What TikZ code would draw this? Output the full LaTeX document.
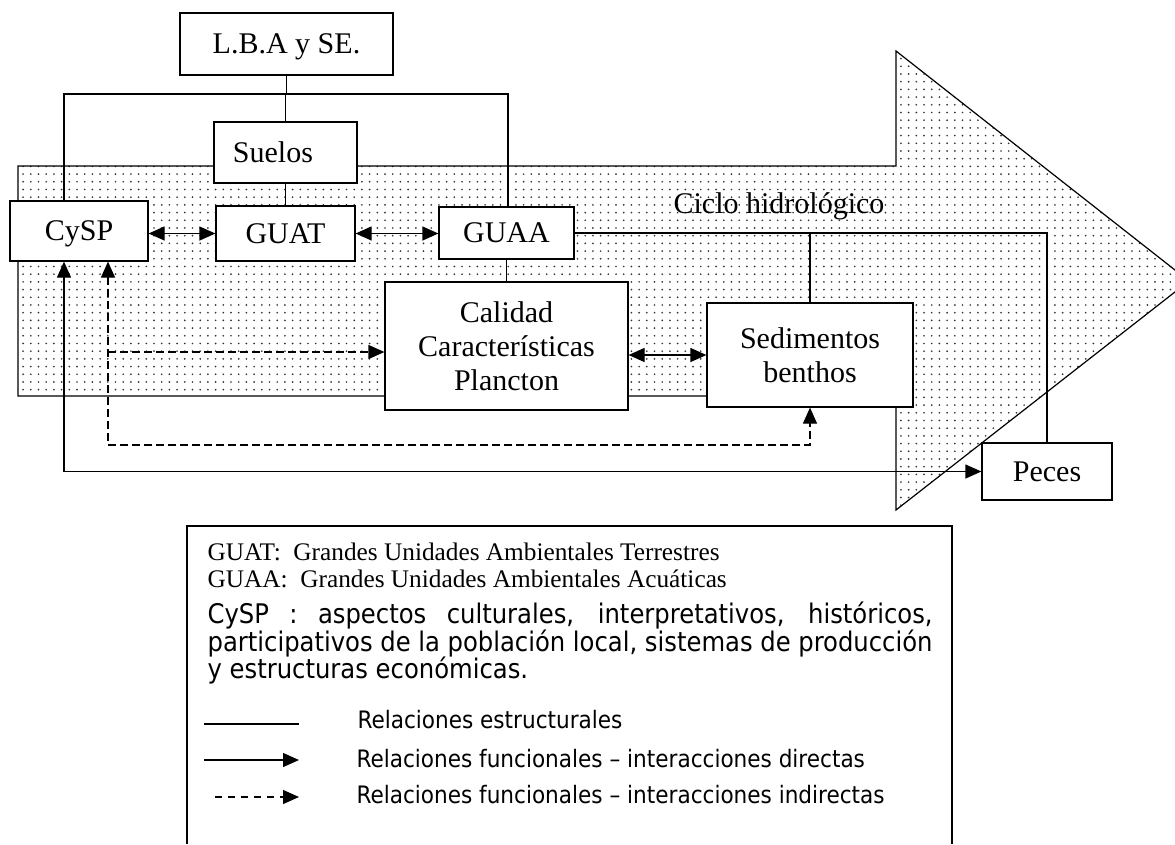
\documentclass[tikz,border=0pt]{standalone}
\usepackage{fontspec}
\setmainfont{Liberation Serif}
\newfontfamily\tahoma{DejaVu Sans Condensed}
\usetikzlibrary{arrows.meta,patterns.meta}
\begin{document}
\begin{tikzpicture}[x=1pt,y=-1pt,line width=1.2pt,>={Triangle[length=16pt,width=14pt]},
	box/.style={draw,fill=white,inner sep=0pt,align=center,font=\fontsize{30}{34}\selectfont},
	one/.style={box,text depth=0pt},
	ind/.style={dash pattern=on 8pt off 4pt},
	gloss/.style={anchor=base west,inner sep=0pt}]
	\useasboundingbox (0,0) rectangle (1175,844);
	\draw[pattern={Dots[distance=7.7pt,radius=0.95pt]},pattern color=black!80]
		(18,166) -- (896,166) -- (896,51) -- (1189,281) -- (896,510) -- (896,396) -- (18,396) -- cycle;
	\node[gloss,font=\fontsize{30}{34}\selectfont] (ciclo) at (673,213) {Ciclo hidrológico};
	\node[one,minimum width=213pt,minimum height=62pt] (lba) at (286.5,44) {L.B.A y SE.};
	\node[one,minimum width=143pt,minimum height=61pt] (suelos) at (285.5,152.5) {Suelos\hspace*{25pt}};
	\node[one,minimum width=138pt,minimum height=60pt] (cysp) at (79,231) {CySP};
	\node[one,minimum width=139pt,minimum height=55pt] (guat) at (285.5,233.5) {GUAT};
	\node[one,minimum width=135pt,minimum height=52pt] (guaa) at (506.5,233) {GUAA};
	\node[box,minimum width=243pt,minimum height=128pt] (calidad) at (506.5,346) {Calidad\\Características\\Plancton};
	\node[box,minimum width=206pt,minimum height=104pt] (sed) at (810,355) {Sedimentos\\benthos};
	\node[one,minimum width=130pt,minimum height=57pt] (peces) at (1047,471.5) {Peces};
	\coordinate (busL) at (64,94);
	\coordinate (busR) at (508,94);
	\draw (cysp.north -| busL) |- (busR) -- (guaa.north -| busR);
	\draw (lba.south) -- (lba.south |- busL);
	\draw (suelos.north) -- (suelos.north |- busL);
	\draw (suelos.south) -- (guat.north);
	\draw[<->] (cysp.east |- guat) -- (guat.west);
	\draw[<->] (guat.east) -- (guaa.west |- guat.east);
	\draw (guaa.south) -- (calidad.north);
	\draw[<->] (calidad.east |- sed.west) -- (sed.west);
	\draw (guaa.east) -| (peces.north);
	\draw (sed.north) -- (sed.north |- guaa.east);
	\draw[<->] (cysp.south -| busL) |- (peces.west);
	\coordinate (dsh) at (108,445);
	\coordinate (dq) at (108,352);
	\draw[<->,ind] (cysp.south -| dsh) |- (sed.south |- dsh) -- (sed.south);
	\draw[->,ind] (dq) -- (calidad.west |- dq);
	\draw (187,844) |- (952,526) -- (952,844);
	\node[gloss,font=\fontsize{25.3}{28}\selectfont] (guatdef) at (207,560) {GUAT:\ \ Grandes Unidades Ambientales Terrestres};
	\node[gloss,font=\fontsize{25.3}{28}\selectfont] (guaadef) at (207,587) {GUAA:\ \ Grandes Unidades Ambientales Acuáticas};
	\node[gloss,font=\tahoma\fontsize{27}{28}\selectfont] (cyspdef) at (207,623) {\makebox[725pt][s]{CySP : aspectos culturales, interpretativos, históricos,}};
	\node[gloss,font=\tahoma\fontsize{27}{28}\selectfont] (cyspdefb) at (207,651) {\makebox[725pt][s]{participativos de la población local, sistemas de producción}};
	\node[gloss,font=\tahoma\fontsize{27}{28}\selectfont] (cyspdefc) at (207,678) {y estructuras económicas.};
	\coordinate (estr) at (204,724);
	\coordinate (dire) at (204,760);
	\coordinate (indi) at (215,797);
	\draw (estr) -- ++(95,0);
	\draw[->] (dire) -- ++(95,0);
	\draw[->,dash pattern=on 7pt off 6pt] (indi) -- ++(84,0);
	\node[gloss,font=\tahoma\fontsize{24}{26}\selectfont] (estrtxt) at (357,728) {Relaciones estructurales};
	\node[gloss,font=\tahoma\fontsize{24}{26}\selectfont] (diretxt) at (356,767) {Relaciones funcionales – interacciones directas};
	\node[gloss,font=\tahoma\fontsize{24}{26}\selectfont] (inditxt) at (356,803) {Relaciones funcionales – interacciones indirectas};
\end{tikzpicture}
\end{document}
